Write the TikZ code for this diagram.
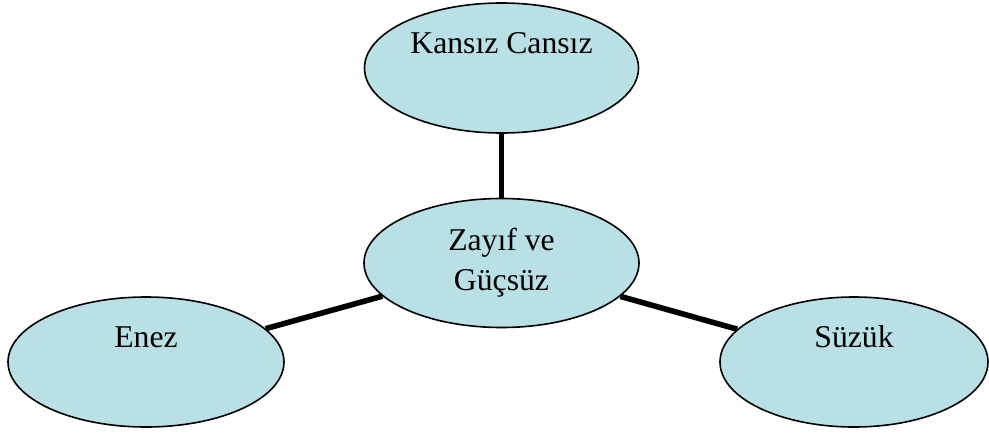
\documentclass[tikz,border=0pt]{standalone}
\usepackage{fontspec}
\setmainfont{Liberation Serif}
\usetikzlibrary{shapes.geometric}
\definecolor{bubble}{RGB}{185,224,229}
\tikzset{
  bub/.style={ellipse, draw=black, line width=1.6pt, fill=bubble, inner sep=0pt,
    font=\fontsize{31.7}{40}\selectfont, align=center},
  oneline/.style={text height=10pt, text depth=40pt},
  link/.style={line width=5.6pt, black}
}
\begin{document}
\begin{tikzpicture}[x=1pt,y=-1pt]
\useasboundingbox (0,0) rectangle (989,434);
\node[bub, oneline, minimum width=274pt, minimum height=130pt] (top) at (501.5,68) {Kansız Cansız};
\node[bub, minimum width=275pt, minimum height=129pt] (mid) at (501.5,263) {Zayıf ve\\Güçsüz};
\node[bub, oneline, minimum width=276pt, minimum height=130pt] (left) at (146,362) {Enez};
\node[bub, oneline, minimum width=268pt, minimum height=130pt] (right) at (854,362) {Süzük};
\draw[link] (top) -- (mid);
\draw[link] (mid) -- (left);
\draw[link] (mid) -- (right);
\end{tikzpicture}
\end{document}
